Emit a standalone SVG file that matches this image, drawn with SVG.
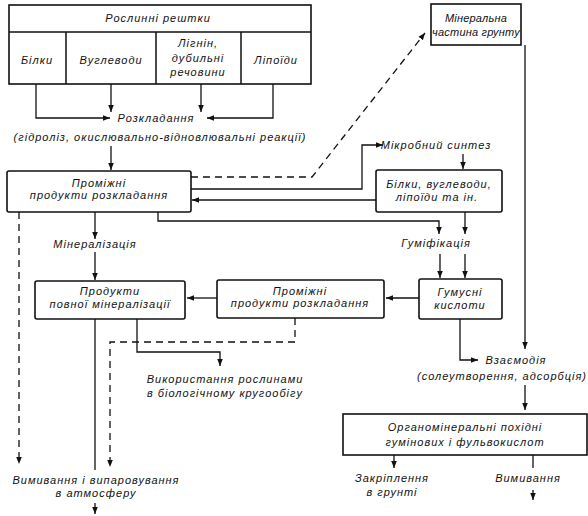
<svg xmlns="http://www.w3.org/2000/svg" width="588" height="516" viewBox="0 0 588 516">
<defs>
<marker id="ah" viewBox="0 0 10 10" refX="10" refY="5" markerWidth="7" markerHeight="7" markerUnits="userSpaceOnUse" orient="auto"><path d="M0,1 L10,5 L0,9 z" fill="#111"/></marker>
<style>
text{font-family:"Liberation Sans",Arial,sans-serif;font-style:italic;font-size:11px;fill:#111;letter-spacing:1px;text-anchor:middle}
.tight{letter-spacing:0.2px}
.box{fill:#fff;stroke:#111;stroke-width:1.6}
.ln{fill:none;stroke:#111;stroke-width:1.3}
.ar{fill:none;stroke:#111;stroke-width:1.3;marker-end:url(#ah)}
.ds{fill:none;stroke:#111;stroke-width:1.3;stroke-dasharray:7,5}
.dsa{fill:none;stroke:#111;stroke-width:1.3;stroke-dasharray:7,5;marker-end:url(#ah)}
</style>
</defs>
<rect width="588" height="516" fill="#fff"/>

<g id="connectors">
<path class="ar" d="M36,84 V118 H110"/>
<path class="ar" d="M111,84 V112"/>
<path class="ar" d="M201,84 V112"/>
<path class="ar" d="M273,84 V118 H207"/>
<path class="ar" d="M111,146 V170"/>
<path class="dsa" d="M191,177 H312 L425,33"/>
<path class="ar" d="M191,189 H362 V145 H383"/>
<path class="ar" d="M376,200 H192"/>
<path class="ar" d="M463,154 V169"/>
<path class="ar" d="M158,212 V221 H439 V234"/>
<path class="ar" d="M465,212 V234"/>
<path class="ar" d="M440,254 V278"/>
<path class="ar" d="M465,254 V278"/>
<path class="ar" d="M95,212 V239"/>
<path class="ar" d="M95,252 V280"/>
<path class="ar" d="M419,298 H386"/>
<path class="ar" d="M217,298 H187"/>
<path class="dsa" d="M19,212 V464"/>
<path class="ln" d="M95,319 V470"/>
<path class="ar" d="M95,503 V514"/>
<path class="dsa" d="M295,318 V342 H110 V467"/>
<path class="ar" d="M137,319 V352 H220 V366"/>
<path class="ar" d="M525,45 V349"/>
<path class="ar" d="M460,319 V360 H478"/>
<path class="ar" d="M525,385 V410"/>
<path class="ar" d="M394,455 V468"/>
<path class="ln" d="M533,455 V468"/>
<path class="ar" d="M533,490 V500"/>
</g>

<g id="roslynni">
<rect class="box" x="9" y="5" width="302" height="79"/>
<path class="ln" d="M9,32 H311 M66,32 V84 M156,32 V84 M241,32 V84" style="stroke-width:1.5"/>
<text x="158" y="22">Рослинні рештки</text>
</g>
<g id="bilky"><text x="37" y="64">Білки</text></g>
<g id="vuhlevody"><text x="111" y="64">Вуглеводи</text></g>
<g id="lignin"><text x="198" y="47">Лігнін,</text><text x="198" y="62">дубильні</text><text x="198" y="76">речовини</text></g>
<g id="lipoidy"><text x="276" y="64">Ліпоїди</text></g>

<g id="rozkladannia">
<text x="156" y="122">Розкладання</text>
<text x="160" y="141">(гідроліз, окислювально-відновлювальні реакції)</text>
</g>

<g id="mineralna">
<rect class="box" x="431" y="4" width="90" height="41"/>
<text class="tight" x="476" y="22">Мінеральна</text>
<text class="tight" x="476" y="36">частина грунту</text>
</g>

<g id="promizhni1">
<rect class="box" x="7" y="171" width="184" height="41" rx="2"/>
<text x="99" y="187">Проміжні</text>
<text x="99" y="199">продукти  розкладання</text>
</g>

<g id="mikrobnyi"><text x="436" y="149">Мікробний синтез</text></g>

<g id="bilky2">
<rect class="box" x="376" y="170" width="126" height="42" rx="2"/>
<text x="439" y="188">Білки, вуглеводи,</text>
<text x="437" y="201">ліпоїди та ін.</text>
</g>

<g id="humifikatsiia"><text x="436" y="247">Гуміфікація</text></g>
<g id="mineralizatsiia"><text x="95" y="248">Мінералізація</text></g>

<g id="produkty">
<rect class="box" x="35" y="281" width="150" height="38" rx="2"/>
<text x="110" y="295">Продукти</text>
<text x="110" y="308">повної мінералізації</text>
</g>

<g id="promizhni2">
<rect class="box" x="217" y="280" width="167" height="38" rx="2"/>
<text x="300" y="295">Проміжні</text>
<text x="300" y="307">продукти розкладання</text>
</g>

<g id="humusni">
<rect class="box" x="419" y="279" width="83" height="40" rx="2"/>
<text x="460" y="296">Гумусні</text>
<text x="460" y="309">кислоти</text>
</g>

<g id="vykorystannia">
<text x="225" y="383">Використання рослинами</text>
<text x="225" y="397">в біологічному кругообігу</text>
</g>

<g id="vzaiemodiia">
<text x="516" y="364">Взаємодія</text>
<text x="502" y="380">(солеутворення, адсорбція)</text>
</g>

<g id="orhanomineralni">
<rect class="box" x="343" y="414" width="244" height="41"/>
<text x="465" y="431">Органомінеральні похідні</text>
<text x="465" y="446">гумінових і фульвокислот</text>
</g>

<g id="zakriplennia"><text x="392" y="482">Закріплення</text><text x="392" y="496">в грунті</text></g>
<g id="vymyvannia"><text x="528" y="482">Вимивання</text></g>
<g id="vymyvannia2"><text x="96" y="484">Вимивання і випаровування</text><text x="96" y="497">в атмосферу</text></g>
</svg>
